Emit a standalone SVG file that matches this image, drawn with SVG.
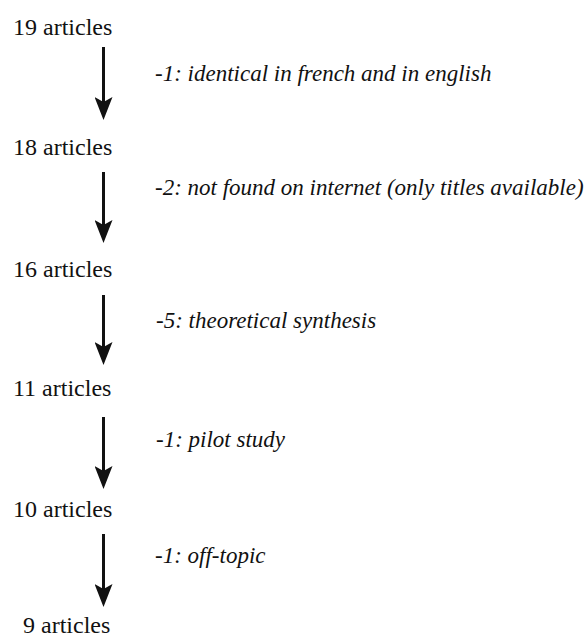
<svg xmlns="http://www.w3.org/2000/svg" width="585" height="638" viewBox="0 0 585 638">
<style>
.node{font-family:'Times New Roman','Liberation Serif',Tinos,serif;font-size:24px;fill:#111}
.lbl{font-family:'Times New Roman','Liberation Serif',Tinos,serif;font-size:23px;font-style:italic;fill:#111}
.edge{stroke:#111;stroke-width:3;fill:none}
</style>
<defs>
<marker id="ah" markerUnits="userSpaceOnUse" viewBox="0 0 23 18" markerWidth="23" markerHeight="18" refX="13" refY="9" orient="auto">
<path d="M0,0 L23,9 L0,18 L5,9 Z" fill="#111"/>
</marker>
</defs>
<rect width="585" height="638" fill="#fff"/>
<g id="n19"><text class="node" x="13" y="35">19 articles</text></g>
<g id="n18"><text class="node" x="13" y="155">18 articles</text></g>
<g id="n16"><text class="node" x="13" y="277">16 articles</text></g>
<g id="n11"><text class="node" x="13" y="396">11 articles</text></g>
<g id="n10"><text class="node" x="13" y="517">10 articles</text></g>
<g id="n9"><text class="node" x="23" y="633">9 articles</text></g>
<g id="connectors">
<line class="edge" x1="103.5" y1="47" x2="103.5" y2="110" marker-end="url(#ah)"/>
<line class="edge" x1="103.5" y1="172" x2="103.5" y2="233" marker-end="url(#ah)"/>
<line class="edge" x1="103.5" y1="295" x2="103.5" y2="355" marker-end="url(#ah)"/>
<line class="edge" x1="103.5" y1="417" x2="103.5" y2="479" marker-end="url(#ah)"/>
<line class="edge" x1="103.5" y1="534" x2="103.5" y2="597" marker-end="url(#ah)"/>
<text class="lbl" x="155" y="81">-1: identical in french and in english</text>
<text class="lbl" x="155" y="195">-2: not found on internet (only titles available)</text>
<text class="lbl" x="156" y="328">-5: theoretical synthesis</text>
<text class="lbl" x="156" y="447">-1: pilot study</text>
<text class="lbl" x="155" y="563">-1: off-topic</text>
</g>
</svg>
